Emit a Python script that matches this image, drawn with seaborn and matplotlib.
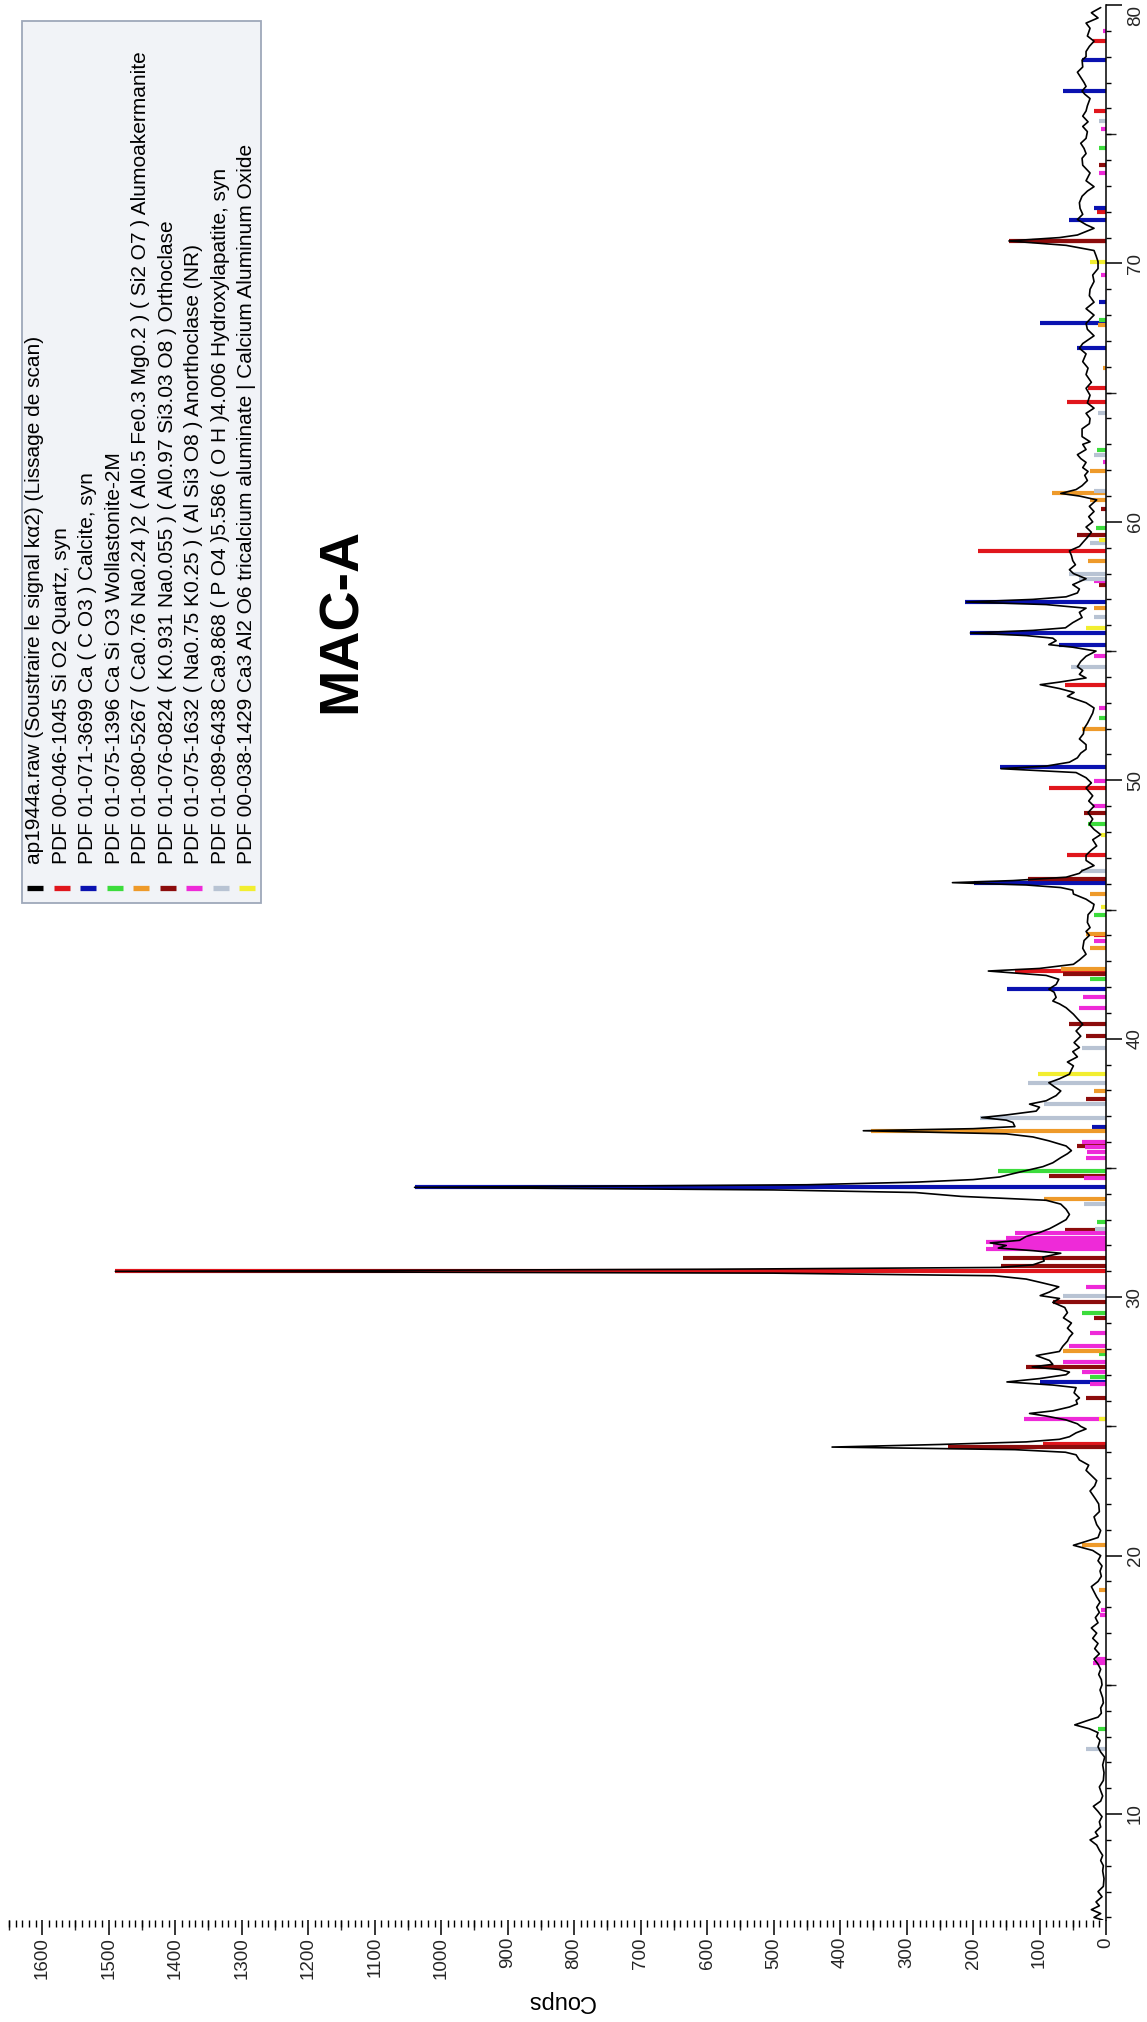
import numpy as np
import pandas as pd
import matplotlib
matplotlib.use("Agg")
import matplotlib.pyplot as plt
from matplotlib.ticker import MultipleLocator, NullLocator, FixedLocator
from matplotlib.patches import Rectangle
import seaborn as sns

# ---------------- data ----------------
scan_profile = [
    (5.9, 5), (6.0, 18), (6.15, 8), (6.3, 22), (6.45, 10), (6.6, 15), (6.8, 6), (7.0, 12), (7.2, 4),
    (7.5, 3), (7.8, 5), (8.0, 4), (8.2, 8), (8.4, 5), (8.6, 10), (8.8, 14), (9.0, 24), (9.15, 12),
    (9.3, 16), (9.5, 8), (9.7, 10), (9.9, 6), (10.1, 12), (10.3, 19), (10.5, 8), (10.7, 5), (10.9, 8),
    (11.05, 10), (11.3, 4), (11.6, 3), (11.9, 5), (12.2, 2), (12.4, 8), (12.6, 12), (12.85, 9),
    (13.0, 14), (13.15, 12), (13.3, 25), (13.45, 47), (13.6, 30), (13.75, 12), (13.9, 7), (14.1, 8),
    (14.3, 4), (14.5, 5), (14.8, 9), (15.0, 6), (15.2, 7), (15.4, 11), (15.6, 8), (15.8, 12),
    (16.0, 18), (16.2, 10), (16.4, 17), (16.6, 12), (16.8, 20), (17.0, 14), (17.2, 22), (17.4, 12),
    (17.6, 16), (17.8, 10), (18.0, 14), (18.2, 9), (18.4, 14), (18.6, 18), (18.8, 22), (19.0, 12),
    (19.2, 7), (19.4, 9), (19.6, 6), (19.8, 12), (20.0, 8), (20.2, 20), (20.4, 49), (20.55, 30),
    (20.7, 12), (20.97, 8), (21.2, 14), (21.5, 18), (21.7, 10), (22.0, 11), (22.2, 16), (22.5, 24),
    (22.7, 17), (22.9, 14), (23.1, 22), (23.3, 30), (23.5, 26), (23.7, 40), (23.9, 45), (24.0, 61),
    (24.1, 137), (24.2, 412), (24.3, 250), (24.4, 120), (24.5, 70), (24.6, 55), (24.75, 45),
    (24.9, 30), (25.0, 38), (25.1, 43), (25.25, 60), (25.4, 90), (25.5, 115), (25.6, 80),
    (25.75, 55), (25.87, 43), (26.0, 45), (26.1, 40), (26.3, 48), (26.5, 45), (26.6, 80),
    (26.72, 149), (26.85, 100), (27.0, 60), (27.1, 55), (27.2, 70), (27.3, 111), (27.4, 80),
    (27.55, 85), (27.74, 105), (27.9, 70), (28.1, 65), (28.3, 58), (28.45, 55), (28.6, 50),
    (28.8, 58), (29.0, 52), (29.2, 64), (29.4, 58), (29.6, 62), (29.8, 80), (29.95, 70),
    (30.06, 99), (30.2, 85), (30.4, 71), (30.55, 95), (30.7, 120), (30.83, 168), (30.93, 500),
    (31.0, 1490), (31.08, 600), (31.15, 160), (31.25, 110), (31.4, 93), (31.55, 95), (31.7, 68),
    (31.8, 110), (31.9, 162), (32.0, 150), (32.1, 174), (32.2, 130), (32.35, 120), (32.5, 100),
    (32.65, 85), (32.8, 74), (33.0, 60), (33.2, 55), (33.4, 60), (33.6, 68), (33.75, 90),
    (33.9, 218), (34.05, 287), (34.15, 500), (34.25, 1040), (34.35, 450), (34.45, 287),
    (34.55, 200), (34.65, 160), (34.76, 143), (34.9, 120), (35.05, 95), (35.2, 80), (35.4, 68),
    (35.55, 58), (35.67, 52), (35.85, 60), (36.05, 86), (36.2, 110), (36.32, 150), (36.44, 365),
    (36.52, 200), (36.6, 137), (36.76, 140), (36.85, 150), (36.95, 187), (37.05, 150), (37.2, 105),
    (37.35, 100), (37.47, 115), (37.6, 90), (37.8, 75), (37.98, 68), (38.15, 78), (38.3, 86),
    (38.45, 70), (38.63, 55), (38.8, 52), (38.95, 49), (39.1, 58), (39.3, 43), (39.5, 50),
    (39.66, 40), (39.85, 48), (40.1, 38), (40.3, 45), (40.56, 35), (40.75, 42), (40.95, 49),
    (41.2, 60), (41.35, 70), (41.46, 80), (41.6, 75), (41.8, 78), (41.92, 86), (42.1, 75),
    (42.3, 71), (42.45, 90), (42.55, 140), (42.62, 177), (42.72, 100), (42.88, 49), (43.05, 40),
    (43.27, 30), (43.5, 35), (43.8, 33), (44.0, 25), (44.15, 30), (44.3, 24), (44.5, 28),
    (44.8, 27), (45.0, 20), (45.2, 18), (45.4, 30), (45.6, 49), (45.75, 50), (45.85, 68),
    (45.95, 120), (46.04, 231), (46.12, 140), (46.25, 60), (46.4, 40), (46.5, 36), (46.7, 18),
    (46.9, 30), (47.1, 30), (47.3, 22), (47.46, 14), (47.7, 20), (47.9, 8), (48.1, 18), (48.3, 25),
    (48.5, 20), (48.75, 27), (49.0, 18), (49.2, 26), (49.4, 20), (49.7, 30), (49.9, 22), (50.1, 30),
    (50.3, 45), (50.45, 158), (50.55, 90), (50.7, 55), (50.87, 43), (51.05, 38), (51.2, 30),
    (51.38, 30), (51.6, 40), (51.8, 34), (52.0, 33), (52.2, 28), (52.4, 24), (52.6, 20), (52.8, 18),
    (53.0, 30), (53.25, 58), (53.4, 48), (53.55, 70), (53.7, 99), (53.8, 70), (53.96, 30),
    (54.1, 40), (54.25, 35), (54.4, 43), (54.6, 38), (54.8, 30), (55.0, 15), (55.15, 50),
    (55.25, 86), (55.4, 75), (55.5, 80), (55.6, 120), (55.7, 204), (55.8, 110), (55.9, 61),
    (56.1, 50), (56.3, 36), (56.5, 40), (56.66, 30), (56.8, 90), (56.9, 210), (57.0, 110),
    (57.1, 60), (57.25, 43), (57.4, 40), (57.57, 50), (57.8, 30), (58.0, 49), (58.15, 55),
    (58.34, 46), (58.5, 50), (58.7, 52), (58.88, 55), (59.05, 40), (59.2, 35), (59.4, 28),
    (59.6, 22), (59.8, 30), (60.0, 20), (60.2, 26), (60.4, 18), (60.6, 25), (60.85, 14), (61.0, 40),
    (61.1, 68), (61.25, 45), (61.4, 36), (61.6, 28), (61.8, 32), (61.95, 27), (62.1, 35), (62.3, 30),
    (62.45, 38), (62.6, 43), (62.8, 30), (63.0, 35), (63.1, 24), (63.3, 36), (63.6, 36), (63.8, 25),
    (64.0, 24), (64.2, 30), (64.4, 18), (64.6, 28), (64.9, 24), (65.17, 30), (65.4, 22), (65.7, 30),
    (65.95, 27), (66.2, 35), (66.5, 30), (66.72, 40), (66.9, 35), (67.2, 18), (67.45, 28),
    (67.68, 30), (67.9, 22), (68.0, 18), (68.25, 30), (68.5, 18), (68.75, 25), (69.0, 24),
    (69.3, 18), (69.55, 20), (69.8, 12), (70.07, 12), (70.3, 15), (70.5, 18), (70.7, 60),
    (70.87, 146), (71.0, 70), (71.1, 43), (71.36, 18), (71.5, 30), (71.7, 43), (71.9, 35),
    (72.13, 39), (72.35, 40), (72.6, 36), (72.8, 28), (72.97, 18), (73.2, 30), (73.5, 24),
    (73.8, 35), (74.07, 36), (74.25, 30), (74.45, 33), (74.65, 38), (74.84, 30), (75.1, 28),
    (75.3, 35), (75.48, 27), (75.7, 35), (75.9, 30), (76.1, 28), (76.38, 24), (76.55, 32),
    (76.67, 36), (76.85, 30), (77.0, 33), (77.2, 38), (77.4, 43), (77.6, 35), (77.87, 36),
    (78.0, 30), (78.2, 30), (78.4, 25), (78.6, 18), (78.8, 28), (79.1, 24), (79.3, 30), (79.5, 12),
    (79.7, 22), (79.9, 8),
]

quartz_sticks = [(24.3, 95), (31.0, 1490), (42.62, 137), (44.0, 18), (47.1, 58), (49.7, 86),
                 (53.7, 61), (58.88, 193), (64.65, 58), (65.17, 27), (70.87, 111), (72.0, 14),
                 (75.9, 18), (78.6, 20)]
calcite_sticks = [(26.72, 99), (34.25, 1040), (36.6, 21), (41.92, 149), (46.04, 199), (50.5, 160),
                  (55.25, 71), (55.7, 204), (56.9, 212), (66.72, 43), (67.68, 99), (68.5, 10),
                  (71.7, 55), (72.13, 18), (76.67, 64), (77.87, 36)]
wollastonite_sticks = [(13.3, 12), (26.9, 24), (27.8, 11), (29.4, 36), (32.9, 14), (34.9, 162),
                       (42.3, 24), (44.8, 18), (48.3, 27), (52.4, 11), (59.76, 15), (62.8, 14),
                       (67.8, 10), (74.45, 11)]
alumoakermanite_sticks = [(18.66, 10), (20.4, 36), (27.9, 64), (33.8, 93), (36.44, 353), (37.98, 18),
                          (42.7, 68), (43.5, 24), (44.05, 30), (45.6, 24), (52.0, 36), (56.66, 18),
                          (58.47, 27), (60.85, 24), (61.1, 81), (61.95, 24), (65.95, 5), (67.6, 12)]
orthoclase_sticks = [(24.2, 237), (26.1, 30), (27.3, 121), (29.2, 18), (29.8, 80), (31.2, 158),
                     (31.5, 155), (32.6, 61), (34.7, 86), (35.86, 43), (37.66, 30), (40.1, 30),
                     (40.56, 55), (42.5, 64), (46.2, 118), (48.75, 33), (57.57, 10), (59.5, 43),
                     (60.5, 8), (70.87, 146), (73.8, 10)]
anorthoclase_sticks = [(15.85, 19), (16.0, 15), (17.7, 9), (17.9, 8), (25.29, 124), (26.64, 24),
                       (27.1, 36), (27.5, 64), (28.1, 55), (28.6, 24), (30.4, 30), (31.85, 180),
                       (32.0, 170), (32.15, 180), (32.3, 150), (32.5, 137), (34.6, 33), (35.4, 30),
                       (35.6, 28), (35.8, 32), (36.0, 36), (41.2, 40), (41.6, 35), (43.8, 18),
                       (49.0, 20), (49.96, 18), (52.8, 11), (54.8, 18), (57.7, 18), (62.3, 5),
                       (69.55, 8), (73.5, 11), (75.2, 8), (79.0, 5)]
hydroxylapatite_sticks = [(12.5, 30), (30.06, 64), (32.65, 17), (33.6, 33), (36.95, 190), (37.47, 93),
                          (38.3, 118), (39.66, 36), (46.5, 38), (54.4, 52), (56.3, 18), (57.8, 40),
                          (58.0, 55), (59.2, 24), (61.2, 18), (62.6, 18), (64.2, 12), (75.5, 10)]
calcium_aluminate_sticks = [(25.29, 11), (38.63, 102), (45.1, 8), (47.9, 8), (55.9, 30), (59.3, 10),
                            (70.07, 24)]

legend_labels = [
    "ap1944a.raw (Soustraire le signal kα2) (Lissage de scan)",
    "PDF 00-046-1045 Si O2 Quartz, syn",
    "PDF 01-071-3699 Ca ( C O3 ) Calcite, syn",
    "PDF 01-075-1396 Ca Si O3 Wollastonite-2M",
    "PDF 01-080-5267 ( Ca0.76 Na0.24 )2 ( Al0.5 Fe0.3 Mg0.2 ) ( Si2 O7 ) Alumoakermanite",
    "PDF 01-076-0824 ( K0.931 Na0.055 ) ( Al0.97 Si3.03 O8 ) Orthoclase",
    "PDF 01-075-1632 ( Na0.75 K0.25 ) ( Al Si3 O8 ) Anorthoclase (NR)",
    "PDF 01-089-6438 Ca9.868 ( P O4 )5.586 ( O H )4.006 Hydroxylapatite, syn",
    "PDF 00-038-1429 Ca3 Al2 O6 tricalcium aluminate | Calcium Aluminum Oxide",
]
legend_colors = ["#000000", "#e0161c", "#0a12b0", "#3cdc3c", "#ee9a2a", "#8c0c0c",
                 "#ee2ad8", "#b8c3d3", "#f2ee30"]
phase_sticks = [quartz_sticks, calcite_sticks, wollastonite_sticks, alumoakermanite_sticks,
                orthoclase_sticks, anorthoclase_sticks, hydroxylapatite_sticks,
                calcium_aluminate_sticks]

title_text = "MAC-A"
count_label = "Coups"

# ---------------- figure ----------------
sns.set_style("white")
plt.rcParams["font.family"] = ["Liberation Sans", "DejaVu Sans"]

W, H = 1147, 2022
fig = plt.figure(figsize=(W / 100, H / 100), dpi=100)

# axes: counts on x (inverted), 2-theta on y
ax_left, ax_right, ax_top, ax_bottom = 9, 1106, 5, 1920
ax = fig.add_axes([ax_left / W, 1 - ax_bottom / H, (ax_right - ax_left) / W, (ax_bottom - ax_top) / H])
ax.set_facecolor("white")

# reference pattern sticks
for sticks, col in zip(phase_sticks, legend_colors[1:]):
    pos = [p for p, _ in sticks]
    inten = [i for _, i in sticks]
    ax.hlines(pos, 0, inten, colors=col, lw=3.0, zorder=2)

# measured scan
scan_df = pd.DataFrame(scan_profile, columns=["two_theta", "counts"])
sns.lineplot(data=scan_df, x="counts", y="two_theta", orient="y", sort=False, estimator=None,
             color="black", lw=1.2, ax=ax, zorder=3)

ax.set_xlim(1650, 0)
ax.set_ylim(5.9, 80.0)
ax.set_xlabel("")
ax.set_ylabel("")

for s in ["left", "top", "bottom"]:
    ax.spines[s].set_visible(False)
ax.spines["right"].set_visible(True)
ax.spines["right"].set_color("black")
ax.spines["right"].set_linewidth(1.1)

# y (2-theta) ticks on the right
ax.yaxis.tick_right()
ax.yaxis.set_major_locator(MultipleLocator(10))
ax.yaxis.set_minor_locator(MultipleLocator(1))
ax.tick_params(axis="y", which="major", direction="out", length=11.5, width=1.1, color="black",
               labelsize=13.5, pad=3.5, right=True, left=False)
ax.tick_params(axis="y", which="minor", direction="out", length=3.6, width=1.0, color="black",
               right=True, left=False)
fig.canvas.draw()
for lab in ax.get_yticklabels():
    lab.set_rotation(90)
    lab.set_ha("left")
    lab.set_va("top" if lab.get_text() == "80" else "center")

# x (counts) ticks at the bottom
ax.xaxis.set_major_locator(MultipleLocator(100))
ax.xaxis.set_minor_locator(MultipleLocator(10))
ax.tick_params(axis="x", which="major", direction="out", length=10.8, width=1.1, color="black",
               labelsize=13.5, pad=1.5, bottom=True, top=False)
ax.tick_params(axis="x", which="minor", direction="out", length=5.0, width=1.0, color="black",
               bottom=True, top=False)
for lab in ax.get_xticklabels():
    lab.set_rotation(90)
    lab.set_ha("center")
    lab.set_va("top")

# medium ticks (every 5 degrees / every 50 counts)
sec_y = ax.secondary_yaxis("right")
sec_y.yaxis.set_major_locator(FixedLocator(np.arange(15, 80, 10)))
sec_y.yaxis.set_minor_locator(NullLocator())
sec_y.tick_params(axis="y", which="major", direction="out", length=7.2, width=1.0, labelright=False)
sec_y.spines["right"].set_visible(False)

sec_x = ax.secondary_xaxis("bottom")
sec_x.xaxis.set_major_locator(FixedLocator(np.arange(50, 1700, 100)))
sec_x.xaxis.set_minor_locator(NullLocator())
sec_x.tick_params(axis="x", which="major", direction="out", length=7.0, width=1.0, labelbottom=False)
sec_x.spines["bottom"].set_visible(False)

# ---------------- overlay: legend, title, axis label ----------------
ov = fig.add_axes([0, 0, 1, 1], facecolor="none")
ov.set_xlim(0, W)
ov.set_ylim(H, 0)
ov.axis("off")

ov.add_patch(Rectangle((22, 21), 239, 882, facecolor="#f1f3f7", edgecolor="#9ea8ba", lw=1.3, zorder=1))
col_x0, col_dx = 35, 26.5
for i, (lab, col) in enumerate(zip(legend_labels, legend_colors)):
    cx = col_x0 + i * col_dx
    ov.text(cx, 864, lab, rotation=90, ha="center", va="bottom", fontsize=15, color="black", zorder=3)
    ov.plot([cx - 8, cx + 8], [888, 888], color=col, lw=3.8, solid_capstyle="butt", zorder=3)

ov.text(342, 620, title_text, rotation=90, ha="center", va="center", fontsize=40,
        fontweight="bold", color="black")
ov.text(561, 2001, count_label, rotation=180, ha="center", va="center", fontsize=17, color="black")

fig.savefig("out.png", dpi=100, facecolor="white")
